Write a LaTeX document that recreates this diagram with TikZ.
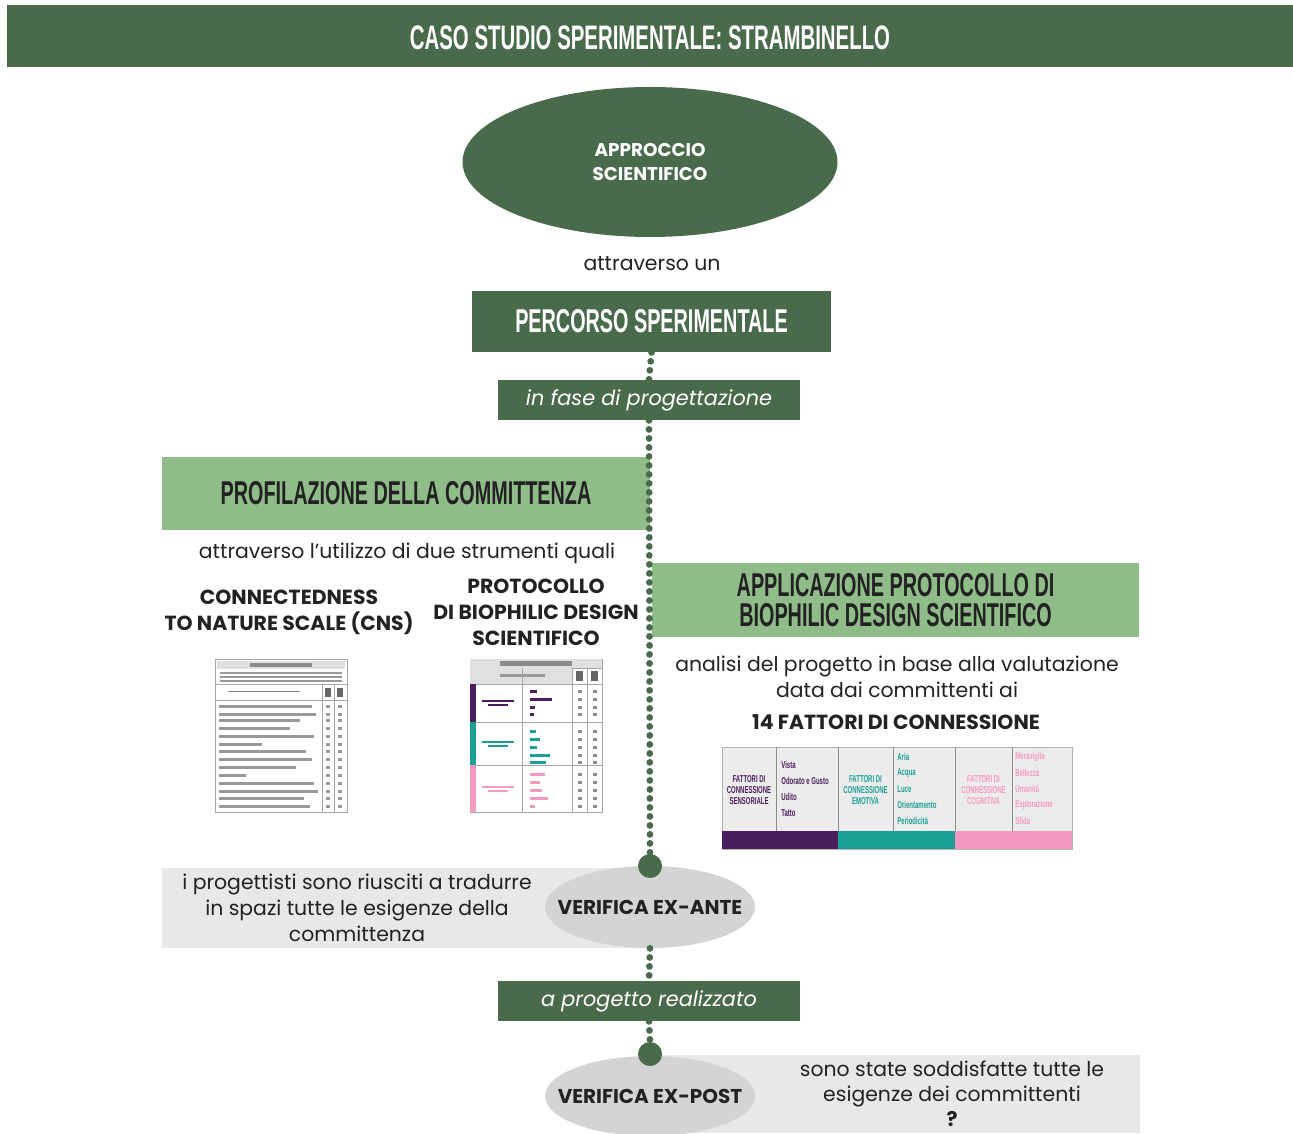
\documentclass[tikz,border=0pt]{standalone}
\usepackage{fontspec}
\setmainfont{Poppins}
\newfontfamily\headfont[FakeStretch=0.6]{Liberation Sans}
\usetikzlibrary{shapes.geometric}

\definecolor{darkgreen}{RGB}{74,106,76}
\definecolor{lightgreen}{RGB}{143,188,136}
\definecolor{bandgray}{RGB}{232,232,232}
\definecolor{ovalgray}{RGB}{212,212,212}
\definecolor{tablegray}{RGB}{236,236,236}
\definecolor{fpurple}{RGB}{74,30,92}
\definecolor{fteal}{RGB}{26,160,148}
\definecolor{fpink}{RGB}{244,154,193}
\definecolor{inkgray}{RGB}{34,34,34}

\begin{document}
\begin{tikzpicture}[x=0.5pt,y=-0.5pt,
  darkbox/.style={fill=darkgreen,text=white,inner sep=0pt},
  lightbox/.style={fill=lightgreen,text=inkgray,inner sep=0pt,align=center,
    font=\headfont\bfseries\fontsize{16.5}{15}\selectfont},
  bodytext/.style={text=inkgray,align=center,inner sep=0pt,font=\fontsize{10.2}{13}\selectfont},
  boldtext/.style={text=inkgray,align=center,inner sep=0pt,font=\bfseries\fontsize{10.2}{13}\selectfont},
  greyoval/.style={ellipse,fill=ovalgray,inner xsep=-10pt,inner ysep=0pt,text=inkgray,
    font=\bfseries\fontsize{10}{11}\selectfont},
  hub/.style={circle,fill=darkgreen,minimum size=12pt,inner sep=0pt},
  dotline/.style={darkgreen,line width=3.4pt,line cap=round,dash pattern=on 0pt off 4.5pt},
  factor/.style={font=\headfont\bfseries\fontsize{5}{5.6}\selectfont,inner sep=0pt},
  thumbbar/.style={fill=black!45},
]
\useasboundingbox (0,0) rectangle (1293,1133);

  % title band
  \fill[darkgreen] (7,5) rectangle (1293,67);
  \draw (650,38) node [text=white,font=\headfont\bfseries\fontsize{17}{18}\selectfont] (title)
  {CASO STUDIO SPERIMENTALE: STRAMBINELLO};

  \draw (650,162) node [ellipse,fill=darkgreen,text=white,minimum width=187.5pt,minimum height=75pt,
    align=center,font=\bfseries\fontsize{9.2}{12}\selectfont] (approccio)
  {APPROCCIO\\SCIENTIFICO};

  \draw (652,264) node [bodytext] (attraverso) {attraverso un};

  \draw (651.5,321.5) node [darkbox,minimum width=179.5pt,minimum height=30.5pt,
    font=\headfont\bfseries\fontsize{16.5}{18}\selectfont] (percorso)
  {PERCORSO SPERIMENTALE};

  \draw (649,400) node [darkbox,minimum width=151pt,minimum height=20pt,
    font=\itshape\fontsize{10.4}{11}\selectfont] (fase)
  {in fase di progettazione};

  % profilazione
  \draw (406,493.5) node [lightbox,minimum width=244pt,minimum height=36.5pt] (profil)
  {PROFILAZIONE DELLA COMMITTENZA};

  \draw (407,553) node [bodytext] (strumenti) {attraverso l'utilizzo di due strumenti quali};

  \draw (289,612) node [boldtext] (cns) {CONNECTEDNESS\\TO NATURE SCALE (CNS)};

  \draw (536,612) node [boldtext] (protocollo) {PROTOCOLLO\\DI BIOPHILIC DESIGN\\SCIENTIFICO};

  % applicazione
  \draw (895.5,600) node [lightbox,minimum width=243.5pt,minimum height=37pt] (applic)
  {APPLICAZIONE PROTOCOLLO DI\\BIOPHILIC DESIGN SCIENTIFICO};

  \draw (897,677) node [bodytext] (analisi)
  {analisi del progetto in base alla valutazione\\data dai committenti ai};

  \draw (896,722) node [boldtext] (fattori) {14 FATTORI DI CONNESSIONE};

  % thumbnail of the CNS questionnaire
  \draw[black!35,fill=white] (215,659) rectangle (347,812);
  \fill[black!12] (217,661) rectangle (345,669);
  \fill[thumbbar] (250,663) rectangle (312,667);
  \foreach \y in {672,676,680}
    \fill[black!40] (220,\y) rectangle (342,\y+2);
  \draw[black!35] (215,684) -- (347,684);
  \draw[black!35] (215,700) -- (347,700);
  \draw[black!50] (228,691) -- (300,691);
  \foreach \x in {322,334}
    \draw[black!35] (\x,684) -- (\x,812);
  \fill[black!60] (325,688) rectangle (331,697);
  \fill[black!60] (337,688) rectangle (343,697);
  \foreach \y/\l in {705/312,713/316,719/300,727/290,735/314,743/262,750/306,758/312,
      766/296,774/246,782/314,790/318,797/304,805/310}{
    \fill[black!40] (219,\y) rectangle (\l,\y+2.5);
    \fill[black!40] (326,\y) rectangle (330,\y+2.5);
    \fill[black!40] (338,\y) rectangle (342,\y+2.5);
  }

  % thumbnail of the biophilic protocol
  \draw[black!35,fill=white] (470,659) rectangle (602,812);
  \fill[black!12] (470,659) rectangle (602,668);
  \fill[thumbbar] (500,661) rectangle (572,666);
  \draw[black!35] (470,668) -- (602,668);
  \fill[black!12] (470,668) rectangle (572,684);
  \fill[black!40] (500,674) rectangle (545,677);
  \fill[black!60] (576,671) rectangle (583,681);
  \fill[black!60] (591,671) rectangle (598,681);
  \foreach \ya/\yb/\c in {684/722/fpurple,722/765/fteal,765/812/fpink}{
    \draw[black!35] (470,\ya) -- (602,\ya);
    \fill[\c] (470,\ya) rectangle (476,\yb);
    \fill[\c] (482,{(\ya+\yb)/2-3}) rectangle (514,{(\ya+\yb)/2-1});
    \fill[\c] (488,{(\ya+\yb)/2+1}) rectangle (508,{(\ya+\yb)/2+3});
  }
  \foreach \x in {522,572,587}
    \draw[black!35] (\x,668) -- (\x,812);
  \foreach \y/\l/\c in {690/537/fpurple,698/552/fpurple,706/535/fpurple,713/534/fpurple,
      730/536/fteal,738/540/fteal,746/537/fteal,754/550/fteal,761/546/fteal,
      773/545/fpink,781/540/fpink,789/542/fpink,797/548/fpink,805/535/fpink}{
    \fill[\c] (530,\y) rectangle (\l,\y+2.5);
    \fill[black!45] (578,\y) rectangle (582,\y+2.5);
    \fill[black!45] (593,\y) rectangle (597,\y+2.5);
  }

  % table of the 14 factors
  \fill[tablegray] (722,747) rectangle (1072,831);
  \draw[black!30] (722,747) rectangle (1072,849);
  \foreach \x in {776,838,893,955,1012}
    \draw[black!45] (\x,747) -- (\x,831);
  \fill[fpurple] (722,831) rectangle (838,849);
  \fill[fteal] (838,831) rectangle (955,849);
  \fill[fpink] (955,831) rectangle (1072,849);
  \draw (749,790) node [factor,text=fpurple,align=center] (sens) {FATTORI DI\\CONNESSIONE\\SENSORIALE};
  \draw (865.5,790) node [factor,text=fteal,align=center] (emot) {FATTORI DI\\CONNESSIONE\\EMOTIVA};
  \draw (983.5,790) node [factor,text=fpink,align=center] (cogn) {FATTORI DI\\CONNESSIONE\\COGNITIVA};
  \foreach \t [count=\i] in {Vista,Odorato e Gusto,Udito,Tatto}
    \draw (781,749+16*\i) node [factor,anchor=west,text=fpurple] (s\i) {\t};
  \foreach \t [count=\i] in {Aria,Acqua,Luce,Orientamento,Periodicità}
    \draw (897,741+16*\i) node [factor,anchor=west,text=fteal] (e\i) {\t};
  \foreach \t [count=\i] in {Meraviglia,Bellezza,Umanità,Esplorazione,Sfida}
    \draw (1015,741+16*\i) node [factor,anchor=west,text=fpink] (c\i) {\t};

  % verifica ex-ante
  \fill[bandgray] (162,868) rectangle (650,948);
  \draw (650,907) node [greyoval,minimum width=105pt,minimum height=41pt] (exante) {VERIFICA EX-ANTE};
  \draw (650,866) node [hub] (hubA) {};
  \draw (357,908) node [bodytext] (tradurre)
  {i progettisti sono riusciti a tradurre\\in spazi tutte le esigenze della\\committenza};

  \draw (649,1001) node [darkbox,minimum width=151pt,minimum height=20pt,
    font=\itshape\fontsize{10.4}{11}\selectfont] (realizzato)
  {a progetto realizzato};

  % verifica ex-post
  \fill[bandgray] (650,1055) rectangle (1140,1133);
  \draw (650,1096) node [greyoval,minimum width=105pt,minimum height=40pt] (expost) {VERIFICA EX-POST};
  \draw (650,1054) node [hub] (hubB) {};
  \draw (952,1094) node [bodytext,font=\fontsize{10.2}{12.5}\selectfont] (soddisfatte)
  {sono state soddisfatte tutte le\\esigenze dei committenti\\\textbf{?}};

  \draw[dotline] (percorso.south) -- (fase.north);
  \draw[dotline] (fase.south) -- (hubA.north);
  \draw[dotline] (exante.south) -- (realizzato.north);
  \draw[dotline] (realizzato.south) -- (hubB.north);

\end{tikzpicture}
\end{document}
